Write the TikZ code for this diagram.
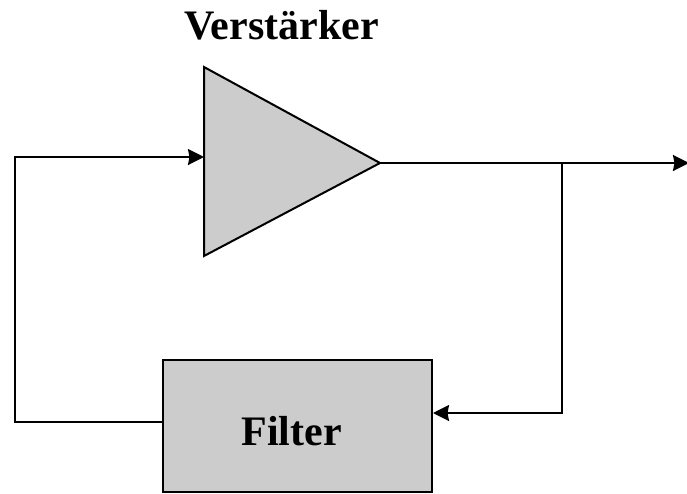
\documentclass[tikz,border=0pt]{standalone}
\usepackage{fontspec}
\setmainfont{Liberation Serif}
\usetikzlibrary{arrows.meta}
\definecolor{blockgray}{HTML}{CCCCCC}
\tikzset{
  wire/.style={line width=2pt, line join=miter},
  arrowwire/.style={wire, -{Stealth[length=16pt,width=16pt,inset=1.5pt]}},
  block/.style={draw, line width=2pt, fill=blockgray},
  bigtext/.style={font=\fontsize{42}{50}\selectfont\bfseries, inner sep=0pt}
}
\begin{document}
\begin{tikzpicture}[x=1pt,y=-1pt]
  \useasboundingbox (0,0) rectangle (687,493);

  % amplifier triangle
  \coordinate (ampTop) at (204,67);
  \coordinate (ampBot) at (204,256);
  \coordinate (ampOut) at (380,163);
  \coordinate (ampIn) at (204,157);
  \draw[block] (ampTop) -- (ampOut) -- (ampBot) -- cycle;
  \node[bigtext, anchor=base] (amplabel) at (281.5,39) {Verstärker};

  % filter block
  \node[block, minimum width=269pt, minimum height=132pt, inner sep=0pt] (filter) at (297.5,426) {};
  \node[bigtext, anchor=base] (filterlabel) at (291.7,445) {Filter};

  % wiring points
  \coordinate (outEnd) at (689,163);
  \coordinate (branch) at (562,163);
  \coordinate (branchLow) at (562,413);
  \coordinate (filterIn) at (filter.east |- branchLow);
  \coordinate (filterOut) at (163,422);
  \coordinate (leftLow) at (15,422);
  \coordinate (leftHigh) at (15,157);

  % output line
  \draw[arrowwire] (ampOut) -- (outEnd);
  % branch down to the filter input
  \draw[arrowwire] (branch) -- (branchLow) -- (filterIn);
  % feedback from the filter back to the amplifier input
  \draw[arrowwire] (filterOut) -- (leftLow) -- (leftHigh) -- (ampIn);
\end{tikzpicture}
\end{document}
